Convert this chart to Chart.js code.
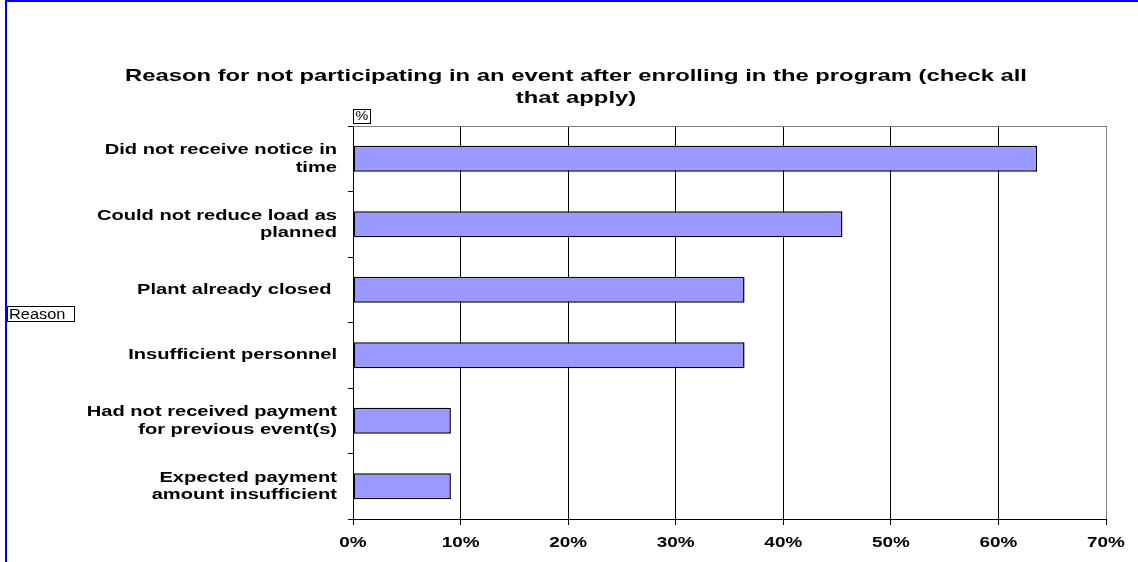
<!DOCTYPE html>
<html>
<head>
<meta charset="utf-8">
<script src="https://cdn.jsdelivr.net/npm/chart.js@4"></script>
<style>
  html, body { margin: 0; padding: 0; background: #fff; }
  #wrap { width: 1138px; height: 562px; }
</style>
</head>
<body>
<div id="wrap"><canvas id="reasonChart" width="1138" height="562"></canvas></div>
<script>
const reasons = [
  ['Did not receive notice in', 'time'],
  ['Could not reduce load as', 'planned'],
  'Plant already closed ',
  'Insufficient personnel',
  ['Had not received payment', 'for previous event(s)'],
  ['Expected payment', 'amount insufficient']
];
const percents = [63.6, 45.5, 36.4, 36.4, 9.1, 9.1];
const titleLines = [
  'Reason for not participating in an event after enrolling in the program (check all',
  'that apply)'
];
const xTicks = [0, 10, 20, 30, 40, 50, 60, 70];

const FONT = '"Liberation Sans", Arial, sans-serif';
const PLOT_LEFT = 353;
const PAD_LEFT = 46;

// draw text widened horizontally around its anchor point
function wideText(ctx, text, x, y, sx) {
  ctx.save();
  ctx.translate(x, y);
  ctx.scale(sx, 1);
  CanvasRenderingContext2D.prototype.fillText.call(ctx, text, 0, 0);
  ctx.restore();
}

// make every fillText inside a box's draw method use wideText
function widen(item, method, sx) {
  if (!item || item['_wide_' + method]) return;
  const orig = item[method];
  item[method] = function (...args) {
    const ctx = this.ctx;
    ctx.fillText = function (text, x, y) { wideText(this, text, x, y, sx); };
    try {
      orig.apply(this, args);
    } finally {
      delete ctx.fillText;
    }
  };
  item['_wide_' + method] = true;
}

const decorations = {
  id: 'decorations',
  afterLayout(chart) {
    widen(chart.titleBlock, 'draw', 1.4);
    widen(chart.scales.x, 'drawLabels', 1.26);
    widen(chart.scales.y, 'drawLabels', 1.34);
  },
  beforeDatasetsDraw(chart) {
    // gray plot border on top and right
    const { ctx, chartArea: a } = chart;
    ctx.save();
    ctx.strokeStyle = '#808080';
    ctx.lineWidth = 1;
    ctx.beginPath();
    ctx.moveTo(a.left, a.top + 0.5);
    ctx.lineTo(a.right + 0.5, a.top + 0.5);
    ctx.lineTo(a.right + 0.5, a.bottom);
    ctx.stroke();
    ctx.restore();
  },
  afterDraw(chart) {
    const { ctx, chartArea: a } = chart;
    ctx.save();
    ctx.strokeStyle = '#0000ff';
    ctx.lineWidth = 2;
    ctx.beginPath();
    ctx.moveTo(6, chart.height + 2);
    ctx.lineTo(6, 1);
    ctx.lineTo(chart.width + 2, 1);
    ctx.stroke();

    // axis caption boxes
    ctx.fillStyle = '#000';
    ctx.strokeStyle = '#000';
    ctx.lineWidth = 1;
    ctx.textBaseline = 'middle';
    ctx.textAlign = 'left';
    ctx.font = '12px ' + FONT;
    ctx.strokeRect(a.left + 0.5, 109.5, 17, 14);
    wideText(ctx, '%', a.left + 2.5, 117, 1.2);
    ctx.font = '14px ' + FONT;
    ctx.strokeRect(7.5, 306.5, 67, 15);
    wideText(ctx, 'Reason', 9, 315, 1.17);
    ctx.restore();
  }
};

new Chart(document.getElementById('reasonChart'), {
  type: 'bar',
  data: {
    labels: reasons,
    datasets: [{
      data: percents,
      backgroundColor: '#9999ff',
      borderColor: '#000',
      borderWidth: 1.5,
      borderSkipped: false,
      barPercentage: 0.4,
      categoryPercentage: 1
    }]
  },
  options: {
    indexAxis: 'y',
    responsive: false,
    animation: false,
    layout: { padding: { left: PAD_LEFT, right: 32, top: 0, bottom: 0 } },
    plugins: {
      legend: { display: false },
      tooltip: { enabled: false },
      title: {
        display: true,
        text: titleLines,
        color: '#000',
        font: { family: FONT, size: 17, weight: 'bold', lineHeight: 1.25 },
        padding: { top: 66, bottom: 17.5 }
      }
    },
    scales: {
      x: {
        min: 0,
        max: 70,
        afterBuildTicks(scale) {
          scale.ticks = xTicks.map(v => ({ value: v }));
        },
        afterFit(scale) { scale.height = 43; },
        border: { color: '#000', width: 1 },
        grid: {
          color: ctx => (ctx.tick && ctx.tick.value === 70 ? '#808080' : '#000'),
          lineWidth: 1,
          tickLength: 6,
          tickColor: '#000'
        },
        ticks: {
          color: '#000',
          padding: 9,
          maxRotation: 0,
          font: { family: FONT, size: 15, weight: 'bold' },
          callback: v => v + '%'
        }
      },
      y: {
        afterFit(scale) { scale.width = PLOT_LEFT - PAD_LEFT; },
        border: { color: '#000', width: 1 },
        grid: {
          offset: true,
          drawOnChartArea: false,
          tickLength: 5,
          color: '#000'
        },
        ticks: {
          color: '#000',
          padding: 11,
          font: { family: FONT, size: 15, weight: 'bold', lineHeight: 1.15 }
        }
      }
    }
  },
  plugins: [decorations]
});
</script>
</body>
</html>
